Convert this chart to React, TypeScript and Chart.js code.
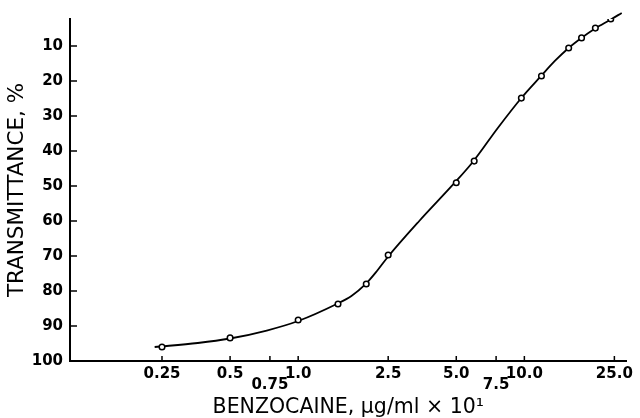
import React, { useEffect, useRef } from 'react';
import { Chart, registerables } from 'chart.js';

Chart.register(...registerables);

// Measured points (benzocaine concentration, µg/ml × 10¹ ; transmittance %)
const concentration = [0.25, 0.5, 1.0, 1.5, 2.0, 2.5, 5.0, 6.0, 9.7, 11.9, 15.7, 17.9, 20.6, 24.1];
const transmittance = [96.0, 93.4, 88.3, 83.7, 78.0, 69.7, 49.1, 42.9, 24.9, 18.6, 10.6, 7.7, 4.9, 2.3];

// Fitted curve (incl. its two free ends)
const curveX = [0.232, 0.36, 0.5, 0.726, 1.0, 1.48, 1.72, 1.98, 2.23, 2.49, 3.43, 4.91, 5.94, 7.63, 9.7, 11.86, 13.64, 15.69, 17.87, 20.56, 24.13, 26.94];
const curveY = [96.0, 94.86, 93.57, 91.29, 88.57, 83.71, 81.43, 78.14, 74.29, 70.29, 60.0, 49.14, 43.0, 33.43, 24.86, 18.57, 14.29, 10.57, 7.71, 5.0, 2.43, 0.57];

// Tick labels
const xTickValues = [0.25, 0.5, 0.75, 1.0, 2.5, 5.0, 7.5, 10.0, 25.0];
const xTickLabels = ['0.25', '0.5', '0.75', '1.0', '2.5', '5.0', '7.5', '10.0', '25.0'];
const xLoweredLabels = ['0.75', '7.5'];
const yTickValues = [10, 20, 30, 40, 50, 60, 70, 80, 90, 100];

const xTitle = 'BENZOCAINE, \u00b5g/ml \u00d7 10\u00b9';
const yTitle = 'TRANSMITTANCE, %';

const innerTicks = {
  id: 'innerTicks',
  afterDraw(chart: any) {
    const { ctx, chartArea, scales } = chart;
    ctx.save();
    ctx.strokeStyle = '#000';
    ctx.lineWidth = 1.5;
    ctx.beginPath();
    for (const v of xTickValues) {
      const px = scales.x.getPixelForValue(v);
      ctx.moveTo(px, chartArea.bottom);
      ctx.lineTo(px, chartArea.bottom - 5);
    }
    for (const v of yTickValues) {
      const py = scales.y.getPixelForValue(v);
      ctx.moveTo(chartArea.left, py);
      ctx.lineTo(chartArea.left + 7, py);
    }
    ctx.stroke();
    ctx.restore();
  },
};

export default function App() {
  const ref = useRef<HTMLCanvasElement | null>(null);

  useEffect(() => {
    if (!ref.current) return;
    const tickFont = { family: 'DejaVu Sans', size: 15, weight: 'bold' as const, lineHeight: 0.75 };
    const chart = new Chart(ref.current, {
      type: 'scatter',
      data: {
        datasets: [
          {
            label: 'points',
            data: concentration.map((x, i) => ({ x, y: transmittance[i] })),
            showLine: false,
            pointRadius: 2.8,
            pointBorderWidth: 1.5,
            pointBorderColor: '#000',
            pointBackgroundColor: '#fff',
            order: 0,
          },
          {
            label: 'curve',
            data: curveX.map((x, i) => ({ x, y: curveY[i] })),
            showLine: true,
            pointRadius: 0,
            borderColor: '#000',
            borderWidth: 1.8,
            cubicInterpolationMode: 'monotone',
            clip: false as any,
            order: 1,
          },
        ],
      },
      options: {
        animation: false,
        responsive: false,
        layout: { padding: { top: 19, right: 4, left: 0, bottom: 0 } },
        plugins: { legend: { display: false }, tooltip: { enabled: false }, title: { display: false } },
        scales: {
          x: {
            type: 'logarithmic',
            min: 0.098,
            max: 28.3,
            afterBuildTicks: (s: any) => {
              s.ticks = xTickValues.map((v) => ({ value: v }));
            },
            afterFit: (s: any) => {
              s.height = 57;
            },
            grid: { display: false, drawTicks: false },
            border: { display: true, color: '#000', width: 2 },
            ticks: {
              autoSkip: false,
              maxRotation: 0,
              minRotation: 0,
              padding: 7,
              color: '#000',
              font: tickFont,
              callback: (value: any) => {
                const i = xTickValues.findIndex((v) => Math.abs(v - Number(value)) < 1e-6);
                if (i < 0) return '';
                const lbl = xTickLabels[i];
                return xLoweredLabels.includes(lbl) ? ['', lbl] : lbl;
              },
            },
            title: {
              display: true,
              text: xTitle,
              color: '#000',
              font: { family: 'DejaVu Sans', size: 20.5, weight: 'normal' as const, lineHeight: 1 },
              padding: { top: 0, bottom: 0 },
            },
          },
          y: {
            type: 'linear',
            reverse: true,
            min: 2.3,
            max: 100,
            afterBuildTicks: (s: any) => {
              s.ticks = yTickValues.map((v) => ({ value: v }));
            },
            afterFit: (s: any) => {
              s.width = 70;
            },
            grid: { display: false, drawTicks: false },
            border: { display: true, color: '#000', width: 2 },
            ticks: {
              padding: 7,
              color: '#000',
              font: tickFont,
              callback: (value: any) => String(value),
            },
            title: {
              display: true,
              text: yTitle,
              color: '#000',
              font: { family: 'DejaVu Sans', size: 21.5, weight: 'normal' as const, lineHeight: 1 },
              padding: { top: 7, bottom: 0 },
            },
          },
        },
      },
      plugins: [innerTicks],
    });
    return () => chart.destroy();
  }, []);

  return (
    <div style={{ position: 'absolute', left: 0, top: 0, width: 640, height: 418, background: '#fff' }}>
      <canvas ref={ref} width={640} height={418} style={{ display: 'block', width: 640, height: 418 }} />
    </div>
  );
}
